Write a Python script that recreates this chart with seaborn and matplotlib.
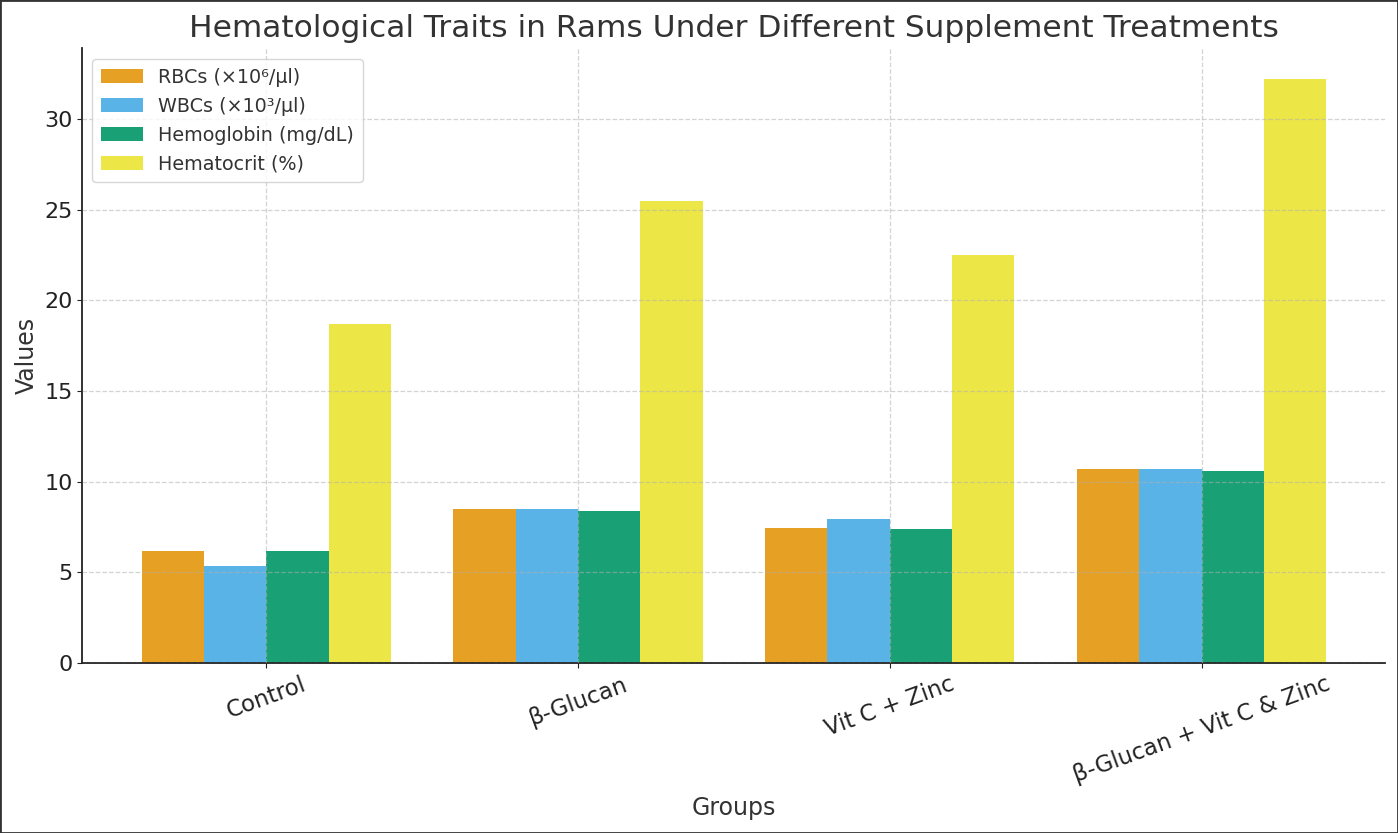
import matplotlib
matplotlib.use("Agg")
import matplotlib.pyplot as plt
import seaborn as sns
import pandas as pd
from matplotlib.patches import Rectangle

groups = ["Control", "β-Glucan", "Vit C + Zinc", "β-Glucan + Vit C & Zinc"]
traits = ["RBCs (×10⁶/µl)", "WBCs (×10³/µl)", "Hemoglobin (mg/dL)", "Hematocrit (%)"]
rbcs = [6.2, 8.5, 7.45, 10.7]
wbcs = [5.35, 8.5, 7.95, 10.7]
hemoglobin = [6.2, 8.4, 7.4, 10.6]
hematocrit = [18.7, 25.5, 22.5, 32.2]
colors = ["#E6A024", "#5AB3E6", "#1AA075", "#ECE646"]

rows = []
for trait, vals in zip(traits, [rbcs, wbcs, hemoglobin, hematocrit]):
    for g, v in zip(groups, vals):
        rows.append({"Group": g, "Trait": trait, "Value": v})
df = pd.DataFrame(rows)

plt.rcParams['font.family'] = ['DejaVu Sans']
fig, ax = plt.subplots(figsize=(13.98, 8.33), dpi=100)
fig.subplots_adjust(left=0.059, right=0.991, top=0.942, bottom=0.204)

sns.barplot(data=df, x="Group", y="Value", hue="Trait", order=groups,
            hue_order=traits, palette=colors, width=0.8,
            saturation=1, ax=ax, errorbar=None)

ax.set_xlim(-0.59, 3.59)
ax.set_ylim(0, 33.9)
ax.set_axisbelow(False)
ax.grid(True, linestyle="--", color="#b0b0b0", alpha=0.55, linewidth=0.9)
for s in ["top", "right"]:
    ax.spines[s].set_visible(False)
for s in ["left", "bottom"]:
    ax.spines[s].set_linewidth(1.3)
    ax.spines[s].set_color("#222222")

ax.set_title("Hematological Traits in Rams Under Different Supplement Treatments",
             fontsize=22.5, color="#333333", pad=8)
ax.set_xlabel("Groups", fontsize=17, color="#333333", labelpad=6)
ax.set_ylabel("Values", fontsize=17, color="#333333", labelpad=4)
ax.tick_params(axis="x", labelsize=16.5, colors="#222222")
ax.tick_params(axis="y", labelsize=16, colors="#222222")
plt.setp(ax.get_xticklabels(), rotation=20, ha="center")

leg = ax.legend(loc="upper left", fontsize=13.8, frameon=True, title=None,
                borderpad=0.45, labelspacing=0.52, handlelength=2.2,
                bbox_to_anchor=(0.0, 0.998))
leg.get_frame().set_edgecolor("#cccccc")
for t in leg.get_texts():
    t.set_color("#333333")

fig.patches.append(Rectangle((0, 0), 1, 1, transform=fig.transFigure,
                             fill=False, edgecolor="#333333", linewidth=2))

fig.savefig("out.png", dpi=100)
